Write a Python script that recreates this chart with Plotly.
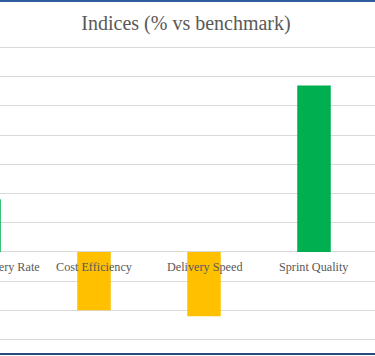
import plotly.graph_objects as go

categories = ["On-time Delivery Rate", "Cost Efficiency", "Delivery Speed", "Sprint Quality"]
values = [18, -20, -22, 57]
title_text = "Indices (% vs benchmark)"

GREEN = "#00B050"
ORANGE = "#FFC000"
colors = [GREEN if v >= 0 else ORANGE for v in values]

SHIFT = 71          # px of the chart hidden past the left edge of the window
PLOT_W = 450
FIG_H = 356
MT, MB = 46, 15
PH = FIG_H - MT - MB

fig = go.Figure(go.Bar(
    x=list(range(len(categories))),
    y=values,
    marker=dict(color=colors, line=dict(width=0)),
    width=0.305,
    hoverinfo="skip",
))

for i, c in enumerate(categories):
    fig.add_annotation(x=i, y=0, xref="x", yref="y", text=c, showarrow=False,
                       yanchor="top", yshift=-6,
                       font=dict(family="Liberation Serif", size=12.2, color="#595959"))

fig.update_layout(
    width=PLOT_W, height=FIG_H,
    margin=dict(l=0, r=0, t=MT, b=MB),
    paper_bgcolor="white", plot_bgcolor="white",
    showlegend=False,
    title=dict(text=title_text, x=(186 + SHIFT) / PLOT_W, xref="container", xanchor="center",
               y=1 - 23 / FIG_H, yref="container", yanchor="middle",
               font=dict(family="Liberation Serif", size=20, color="#595959")),
    xaxis=dict(range=[-0.5, -0.5 + PLOT_W / 110], showticklabels=False, showgrid=False,
               zeroline=False, showline=False, ticks=""),
    yaxis=dict(range=[-30.5, 70.5], dtick=10, tick0=0, showticklabels=False, showgrid=True,
               gridcolor="#D9D9D9", gridwidth=1, zeroline=True, zerolinecolor="#D9D9D9",
               zerolinewidth=1, showline=False, ticks=""),
    shapes=[
        dict(type="line", xref="paper", yref="paper", x0=0, x1=1,
             y0=1 + (MT - 1) / PH, y1=1 + (MT - 1) / PH,
             line=dict(color="#2F5C9E", width=2)),
        dict(type="line", xref="paper", yref="paper", x0=0, x1=1,
             y0=-(MB - 2) / PH, y1=-(MB - 2) / PH,
             line=dict(color="#294A7E", width=2)),
    ],
)

post = ("var d=document.getElementById('{plot_id}');"
        "document.body.style.margin='0';document.body.style.overflow='hidden';"
        "d.style.position='absolute';d.style.top='0px';d.style.left='-%dpx';" % SHIFT)

fig.write_html("out.html", post_script=post, config={"displayModeBar": False})
